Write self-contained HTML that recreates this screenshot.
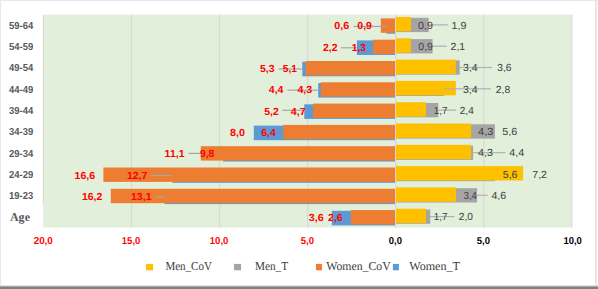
<!DOCTYPE html>
<html><head><meta charset="utf-8"><style>
html,body{margin:0;padding:0;background:#fff;width:598px;height:289px;overflow:hidden}
svg{display:block} text{text-rendering:geometricPrecision}
</style></head><body>
<svg width="598" height="289" viewBox="0 0 598 289">
<rect x="0" y="0" width="598" height="289" fill="#ffffff"/>
<rect x="0" y="0" width="598" height="1.1" fill="#e8e8e8"/>
<rect x="0" y="0" width="1.1" height="289" fill="#e8e8e8"/>
<rect x="595" y="0" width="2" height="286" fill="#e6e6e6"/>
<rect x="0" y="285" width="598" height="1" fill="#e4e4e4"/>
<rect x="0" y="286" width="598" height="1" fill="#a8a8a8"/>
<rect x="0" y="287" width="598" height="2" fill="#808080"/>
<rect x="43.5" y="14.6" width="528" height="212.90" fill="#e2efda"/>
<rect x="42.84" y="14.6" width="1.2" height="189.40" fill="#d9d9d9"/>
<rect x="130.90" y="14.6" width="1.2" height="212.90" fill="#d9d9d9"/>
<rect x="218.96" y="14.6" width="1.2" height="212.90" fill="#d9d9d9"/>
<rect x="307.02" y="14.6" width="1.2" height="212.90" fill="#d9d9d9"/>
<rect x="395.08" y="14.6" width="1.2" height="212.90" fill="#d9d9d9"/>
<rect x="483.14" y="14.6" width="1.2" height="212.90" fill="#d9d9d9"/>
<rect x="571.20" y="14.6" width="1.2" height="212.90" fill="#d9d9d9"/>
<rect x="42.9" y="204" width="1.2" height="23.5" fill="#ececec"/>
<rect x="386.4" y="19.10" width="8.60" height="14.6" fill="#5b9bd5"/>
<rect x="380.8" y="18.40" width="14.20" height="14.4" fill="#ed7d31"/>
<rect x="396.0" y="17.80" width="32.70" height="14.3" fill="#a5a5a5"/>
<rect x="396.0" y="17.00" width="15.00" height="14.4" fill="#ffc000"/>
<rect x="356.9" y="40.40" width="38.10" height="14.6" fill="#5b9bd5"/>
<rect x="372.9" y="39.70" width="22.10" height="14.4" fill="#ed7d31"/>
<rect x="396.0" y="39.10" width="36.60" height="14.3" fill="#a5a5a5"/>
<rect x="396.0" y="38.30" width="14.90" height="14.4" fill="#ffc000"/>
<rect x="302.3" y="61.70" width="92.70" height="14.6" fill="#5b9bd5"/>
<rect x="305.7" y="61.00" width="89.30" height="14.4" fill="#ed7d31"/>
<rect x="396.0" y="60.40" width="63.70" height="14.3" fill="#a5a5a5"/>
<rect x="396.0" y="59.60" width="59.80" height="14.4" fill="#ffc000"/>
<rect x="318.2" y="83.00" width="76.80" height="14.6" fill="#5b9bd5"/>
<rect x="320.8" y="82.30" width="74.20" height="14.4" fill="#ed7d31"/>
<rect x="396.0" y="81.70" width="48.20" height="14.3" fill="#a5a5a5"/>
<rect x="396.0" y="80.90" width="59.80" height="14.4" fill="#ffc000"/>
<rect x="304.3" y="104.30" width="90.70" height="14.6" fill="#5b9bd5"/>
<rect x="313.1" y="103.60" width="81.90" height="14.4" fill="#ed7d31"/>
<rect x="396.0" y="103.00" width="42.30" height="14.3" fill="#a5a5a5"/>
<rect x="396.0" y="102.20" width="30.00" height="14.4" fill="#ffc000"/>
<rect x="253.8" y="125.60" width="141.20" height="14.6" fill="#5b9bd5"/>
<rect x="283.1" y="124.90" width="111.90" height="14.4" fill="#ed7d31"/>
<rect x="396.0" y="124.30" width="98.90" height="14.3" fill="#a5a5a5"/>
<rect x="396.0" y="123.50" width="75.10" height="14.4" fill="#ffc000"/>
<rect x="223.0" y="146.90" width="172.00" height="14.6" fill="#5b9bd5"/>
<rect x="200.8" y="146.20" width="194.20" height="14.4" fill="#ed7d31"/>
<rect x="396.0" y="145.60" width="77.10" height="14.3" fill="#a5a5a5"/>
<rect x="396.0" y="144.80" width="75.10" height="14.4" fill="#ffc000"/>
<rect x="172.3" y="168.20" width="222.70" height="14.6" fill="#5b9bd5"/>
<rect x="103.4" y="167.50" width="291.60" height="14.4" fill="#ed7d31"/>
<rect x="396.0" y="166.90" width="98.90" height="14.3" fill="#a5a5a5"/>
<rect x="396.0" y="166.10" width="127.10" height="14.4" fill="#ffc000"/>
<rect x="164.6" y="189.50" width="230.40" height="14.6" fill="#5b9bd5"/>
<rect x="110.8" y="188.80" width="284.20" height="14.4" fill="#ed7d31"/>
<rect x="396.0" y="188.20" width="81.10" height="14.3" fill="#a5a5a5"/>
<rect x="396.0" y="187.40" width="60.00" height="14.4" fill="#ffc000"/>
<rect x="331.8" y="210.80" width="63.20" height="14.6" fill="#5b9bd5"/>
<rect x="350.8" y="210.10" width="44.20" height="14.4" fill="#ed7d31"/>
<rect x="396.0" y="209.50" width="34.20" height="14.3" fill="#a5a5a5"/>
<rect x="396.0" y="208.70" width="30.00" height="14.4" fill="#ffc000"/>
<rect x="353.7" y="25.85" width="32.70" height="1.2" fill="#a6a6a6"/>
<rect x="341" y="47.20" width="15.90" height="1.2" fill="#a6a6a6"/>
<rect x="278.5" y="68.40" width="23.80" height="1.2" fill="#a6a6a6"/>
<rect x="287.4" y="89.55" width="30.80" height="1.2" fill="#a6a6a6"/>
<rect x="282.3" y="109.75" width="22.00" height="1.2" fill="#a6a6a6"/>
<rect x="188.5" y="152.80" width="12.30" height="1.2" fill="#a6a6a6"/>
<rect x="151.4" y="174.85" width="20.90" height="1.2" fill="#a6a6a6"/>
<rect x="155.2" y="196.35" width="9.40" height="1.2" fill="#a6a6a6"/>
<rect x="428.7" y="24.30" width="19.00" height="1.2" fill="#b0b0b0"/>
<rect x="432.6" y="45.60" width="14.20" height="1.2" fill="#b0b0b0"/>
<rect x="459.7" y="66.90" width="32.60" height="1.2" fill="#b0b0b0"/>
<rect x="444.2" y="88.20" width="46.80" height="1.2" fill="#b0b0b0"/>
<rect x="438.3" y="109.50" width="17.70" height="1.2" fill="#b0b0b0"/>
<rect x="473.1" y="152.10" width="32.30" height="1.2" fill="#b0b0b0"/>
<rect x="477.1" y="194.70" width="10.60" height="1.2" fill="#b0b0b0"/>
<rect x="430.2" y="216.00" width="24.30" height="1.2" fill="#b0b0b0"/>
<text transform="matrix(1.0496 0 0 1 334.30 29.40)" font-family='"Liberation Sans", sans-serif' font-size="10.28" font-weight="bold" fill="#ff0000">0,6</text>
<text transform="matrix(1.0286 0 0 1 357.30 29.40)" font-family='"Liberation Sans", sans-serif' font-size="10.28" font-weight="bold" fill="#ff0000">0,9</text>
<text transform="matrix(1.0146 0 0 1 323.00 50.70)" font-family='"Liberation Sans", sans-serif' font-size="10.28" font-weight="bold" fill="#ff0000">2,2</text>
<text transform="matrix(0.9936 0 0 1 351.80 50.70)" font-family='"Liberation Sans", sans-serif' font-size="10.28" font-weight="bold" fill="#ff0000">1,3</text>
<text transform="matrix(1.0216 0 0 1 260.00 72.00)" font-family='"Liberation Sans", sans-serif' font-size="10.28" font-weight="bold" fill="#ff0000">5,3</text>
<text transform="matrix(0.9936 0 0 1 282.80 72.00)" font-family='"Liberation Sans", sans-serif' font-size="10.28" font-weight="bold" fill="#ff0000">5,1</text>
<text transform="matrix(1.0286 0 0 1 268.80 93.30)" font-family='"Liberation Sans", sans-serif' font-size="10.28" font-weight="bold" fill="#ff0000">4,4</text>
<text transform="matrix(1.0426 0 0 1 297.40 93.30)" font-family='"Liberation Sans", sans-serif' font-size="10.28" font-weight="bold" fill="#ff0000">4,3</text>
<text transform="matrix(1.0146 0 0 1 264.30 114.60)" font-family='"Liberation Sans", sans-serif' font-size="10.28" font-weight="bold" fill="#ff0000">5,2</text>
<text transform="matrix(1.0496 0 0 1 290.80 114.60)" font-family='"Liberation Sans", sans-serif' font-size="10.28" font-weight="bold" fill="#ff0000">4,7</text>
<text transform="matrix(1.0426 0 0 1 230.00 135.90)" font-family='"Liberation Sans", sans-serif' font-size="10.28" font-weight="bold" fill="#ff0000">8,0</text>
<text transform="matrix(1.0216 0 0 1 261.20 135.90)" font-family='"Liberation Sans", sans-serif' font-size="10.28" font-weight="bold" fill="#ff0000">6,4</text>
<text transform="matrix(1.0292 0 0 1 164.60 157.20)" font-family='"Liberation Sans", sans-serif' font-size="10.28" font-weight="bold" fill="#ff0000">11,1</text>
<text transform="matrix(1.0006 0 0 1 200.00 157.20)" font-family='"Liberation Sans", sans-serif' font-size="10.28" font-weight="bold" fill="#ff0000">9,8</text>
<text transform="matrix(1.0251 0 0 1 74.60 178.50)" font-family='"Liberation Sans", sans-serif' font-size="10.28" font-weight="bold" fill="#ff0000">16,6</text>
<text transform="matrix(1.0251 0 0 1 126.90 178.50)" font-family='"Liberation Sans", sans-serif' font-size="10.28" font-weight="bold" fill="#ff0000">12,7</text>
<text transform="matrix(1.0151 0 0 1 82.00 199.80)" font-family='"Liberation Sans", sans-serif' font-size="10.28" font-weight="bold" fill="#ff0000">16,2</text>
<text transform="matrix(1.0251 0 0 1 131.00 199.80)" font-family='"Liberation Sans", sans-serif' font-size="10.28" font-weight="bold" fill="#ff0000">13,1</text>
<text transform="matrix(1.0496 0 0 1 308.80 221.10)" font-family='"Liberation Sans", sans-serif' font-size="10.28" font-weight="bold" fill="#ff0000">3,6</text>
<text transform="matrix(1.0356 0 0 1 328.00 221.10)" font-family='"Liberation Sans", sans-serif' font-size="10.28" font-weight="bold" fill="#ff0000">2,6</text>
<text transform="matrix(1.0496 0 0 1 418.00 28.60)" font-family='"Liberation Sans", sans-serif' font-size="10.28" font-weight="normal" fill="#404040">0,9</text>
<text transform="matrix(1.0496 0 0 1 451.50 28.60)" font-family='"Liberation Sans", sans-serif' font-size="10.28" font-weight="normal" fill="#404040">1,9</text>
<text transform="matrix(1.0216 0 0 1 418.30 49.90)" font-family='"Liberation Sans", sans-serif' font-size="10.28" font-weight="normal" fill="#404040">0,9</text>
<text transform="matrix(1.0216 0 0 1 450.60 49.90)" font-family='"Liberation Sans", sans-serif' font-size="10.28" font-weight="normal" fill="#404040">2,1</text>
<text transform="matrix(1.0216 0 0 1 463.10 71.20)" font-family='"Liberation Sans", sans-serif' font-size="10.28" font-weight="normal" fill="#404040">3,4</text>
<text transform="matrix(1.0006 0 0 1 497.20 71.20)" font-family='"Liberation Sans", sans-serif' font-size="10.28" font-weight="normal" fill="#404040">3,6</text>
<text transform="matrix(1.0286 0 0 1 463.00 92.50)" font-family='"Liberation Sans", sans-serif' font-size="10.28" font-weight="normal" fill="#404040">3,4</text>
<text transform="matrix(1.0146 0 0 1 495.80 92.50)" font-family='"Liberation Sans", sans-serif' font-size="10.28" font-weight="normal" fill="#404040">2,8</text>
<text transform="matrix(0.9656 0 0 1 433.70 113.80)" font-family='"Liberation Sans", sans-serif' font-size="10.28" font-weight="normal" fill="#404040">1,7</text>
<text transform="matrix(0.9726 0 0 1 459.80 113.80)" font-family='"Liberation Sans", sans-serif' font-size="10.28" font-weight="normal" fill="#404040">2,4</text>
<text transform="matrix(1.0776 0 0 1 478.00 135.10)" font-family='"Liberation Sans", sans-serif' font-size="10.28" font-weight="normal" fill="#404040">4,3</text>
<text transform="matrix(1.0426 0 0 1 502.30 135.10)" font-family='"Liberation Sans", sans-serif' font-size="10.28" font-weight="normal" fill="#404040">5,6</text>
<text transform="matrix(1.0496 0 0 1 478.00 156.40)" font-family='"Liberation Sans", sans-serif' font-size="10.28" font-weight="normal" fill="#404040">4,3</text>
<text transform="matrix(1.0496 0 0 1 509.20 156.40)" font-family='"Liberation Sans", sans-serif' font-size="10.28" font-weight="normal" fill="#404040">4,4</text>
<text transform="matrix(1.0216 0 0 1 502.80 177.70)" font-family='"Liberation Sans", sans-serif' font-size="10.28" font-weight="normal" fill="#404040">5,6</text>
<text transform="matrix(1.0286 0 0 1 532.30 177.70)" font-family='"Liberation Sans", sans-serif' font-size="10.28" font-weight="normal" fill="#404040">7,2</text>
<text transform="matrix(0.9166 0 0 1 463.70 199.00)" font-family='"Liberation Sans", sans-serif' font-size="10.28" font-weight="normal" fill="#404040">3,4</text>
<text transform="matrix(1.0286 0 0 1 491.50 199.00)" font-family='"Liberation Sans", sans-serif' font-size="10.28" font-weight="normal" fill="#404040">4,6</text>
<text transform="matrix(0.9656 0 0 1 433.70 220.30)" font-family='"Liberation Sans", sans-serif' font-size="10.28" font-weight="normal" fill="#404040">1,7</text>
<text transform="matrix(0.9866 0 0 1 458.80 220.30)" font-family='"Liberation Sans", sans-serif' font-size="10.28" font-weight="normal" fill="#404040">2,0</text>
<text transform="matrix(0.9322 0 0 1 9.10 28.70)" font-family='"Liberation Sans", sans-serif' font-size="10.14" font-weight="bold" fill="#595959">59-64</text>
<text transform="matrix(0.9322 0 0 1 9.10 50.00)" font-family='"Liberation Sans", sans-serif' font-size="10.14" font-weight="bold" fill="#595959">54-59</text>
<text transform="matrix(0.9322 0 0 1 9.10 71.30)" font-family='"Liberation Sans", sans-serif' font-size="10.14" font-weight="bold" fill="#595959">49-54</text>
<text transform="matrix(0.9322 0 0 1 9.10 92.60)" font-family='"Liberation Sans", sans-serif' font-size="10.14" font-weight="bold" fill="#595959">44-49</text>
<text transform="matrix(0.9322 0 0 1 9.10 113.90)" font-family='"Liberation Sans", sans-serif' font-size="10.14" font-weight="bold" fill="#595959">39-44</text>
<text transform="matrix(0.9322 0 0 1 9.10 135.20)" font-family='"Liberation Sans", sans-serif' font-size="10.14" font-weight="bold" fill="#595959">34-39</text>
<text transform="matrix(0.9322 0 0 1 9.10 156.50)" font-family='"Liberation Sans", sans-serif' font-size="10.14" font-weight="bold" fill="#595959">29-34</text>
<text transform="matrix(0.9322 0 0 1 9.10 177.80)" font-family='"Liberation Sans", sans-serif' font-size="10.14" font-weight="bold" fill="#595959">24-29</text>
<text transform="matrix(0.9322 0 0 1 9.10 199.10)" font-family='"Liberation Sans", sans-serif' font-size="10.14" font-weight="bold" fill="#595959">19-23</text>
<text transform="matrix(0.9959 0 0 1 9.90 220.70)" font-family='"Liberation Serif", serif' font-size="12.12" font-weight="bold" fill="#595959">Age</text>
<text transform="matrix(0.9820 0 0 1 33.70 243.80)" font-family='"Liberation Sans", sans-serif' font-size="10.00" font-weight="bold" fill="#ff0000">20,0</text>
<text transform="matrix(0.9512 0 0 1 121.80 243.80)" font-family='"Liberation Sans", sans-serif' font-size="10.00" font-weight="bold" fill="#ff0000">15,0</text>
<text transform="matrix(0.9512 0 0 1 209.80 243.80)" font-family='"Liberation Sans", sans-serif' font-size="10.00" font-weight="bold" fill="#ff0000">10,0</text>
<text transform="matrix(0.9496 0 0 1 300.80 243.80)" font-family='"Liberation Sans", sans-serif' font-size="10.00" font-weight="bold" fill="#ff0000">5,0</text>
<text transform="matrix(0.9496 0 0 1 388.80 243.80)" font-family='"Liberation Sans", sans-serif' font-size="10.00" font-weight="bold" fill="#000">0,0</text>
<text transform="matrix(0.9496 0 0 1 476.80 243.80)" font-family='"Liberation Sans", sans-serif' font-size="10.00" font-weight="bold" fill="#000">5,0</text>
<text transform="matrix(0.9460 0 0 1 563.40 243.80)" font-family='"Liberation Sans", sans-serif' font-size="10.00" font-weight="bold" fill="#000">10,0</text>
<rect x="146.0" y="263.9" width="7.1" height="6.4" fill="#ffc000"/>
<rect x="234.0" y="263.9" width="7.1" height="6.4" fill="#a5a5a5"/>
<rect x="316.0" y="263.9" width="6.0" height="6.4" fill="#ed7d31"/>
<rect x="392.9" y="263.9" width="6.0" height="6.4" fill="#5b9bd5"/>
<text transform="matrix(0.9136 0 0 1 165.40 270.00)" font-family='"Liberation Serif", serif' font-size="12.06" font-weight="normal" fill="#404040">Men_CoV</text>
<text transform="matrix(0.9319 0 0 1 255.00 270.00)" font-family='"Liberation Serif", serif' font-size="12.06" font-weight="normal" fill="#404040">Men_T</text>
<text transform="matrix(0.9783 0 0 1 326.20 270.00)" font-family='"Liberation Serif", serif' font-size="12.06" font-weight="normal" fill="#404040">Women_CoV</text>
<text transform="matrix(1.0040 0 0 1 409.20 270.00)" font-family='"Liberation Serif", serif' font-size="12.06" font-weight="normal" fill="#404040">Women_T</text>
</svg>
</body></html>
